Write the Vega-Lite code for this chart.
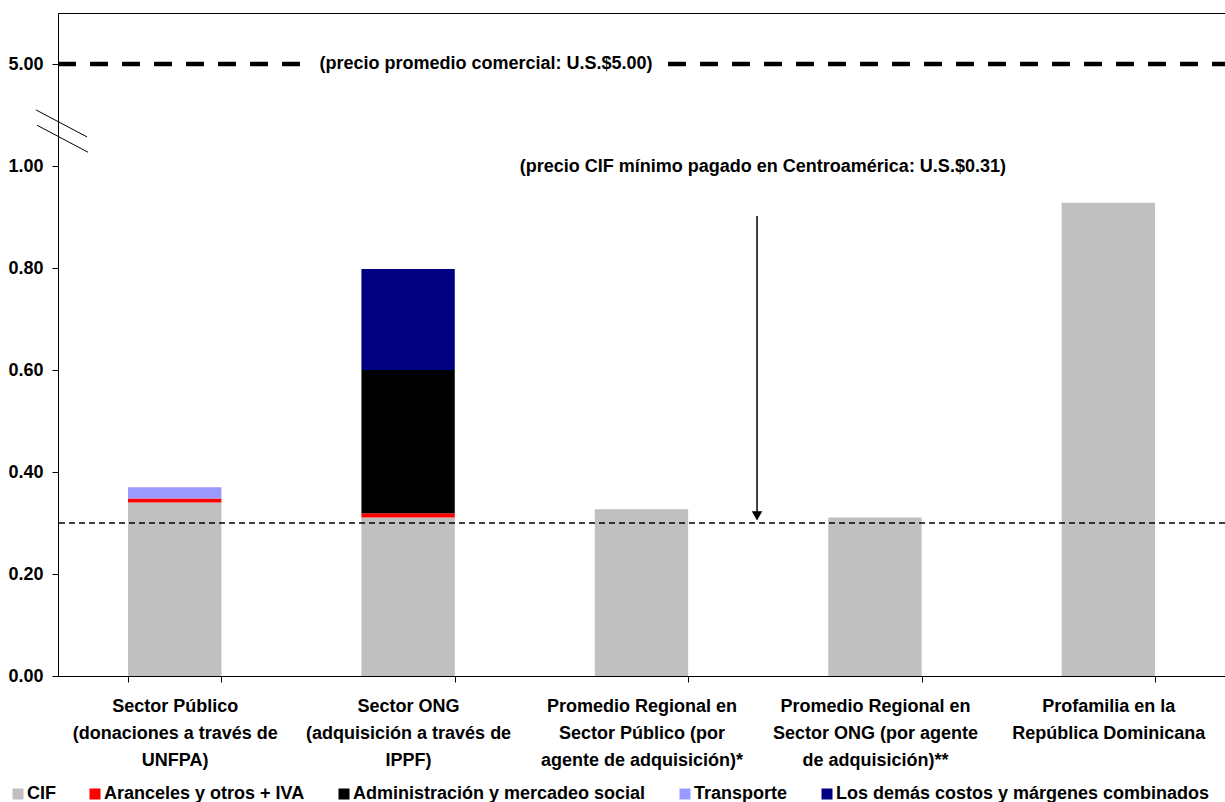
{
  "$schema": "https://vega.github.io/schema/vega-lite/v6.json",
  "autosize": "none",
  "width": 1167,
  "height": 663,
  "padding": {"left": 58, "top": 13, "right": 0, "bottom": 126},
  "background": "white",
  "config": {
    "font": "Liberation Sans",
    "view": {"stroke": "black", "strokeWidth": 1},
    "axis": {
      "labelFont": "Liberation Sans",
      "labelFontSize": 18,
      "labelFontWeight": "bold",
      "labelColor": "black",
      "domainColor": "black",
      "tickColor": "black",
      "grid": false,
      "title": null
    },
    "legend": {
      "labelFont": "Liberation Sans",
      "labelFontSize": 18,
      "labelFontWeight": "bold",
      "labelColor": "black"
    }
  },
  "data": {
    "values": [
      {"categoria": "Sector Público (donaciones a través de UNFPA)", "componente": "CIF", "orden": 1, "valor": 0.34},
      {"categoria": "Sector Público (donaciones a través de UNFPA)", "componente": "Aranceles y otros + IVA", "orden": 2, "valor": 0.008},
      {"categoria": "Sector Público (donaciones a través de UNFPA)", "componente": "Transporte", "orden": 4, "valor": 0.022},
      {"categoria": "Sector ONG (adquisición a través de IPPF)", "componente": "CIF", "orden": 1, "valor": 0.311},
      {"categoria": "Sector ONG (adquisición a través de IPPF)", "componente": "Aranceles y otros + IVA", "orden": 2, "valor": 0.008},
      {"categoria": "Sector ONG (adquisición a través de IPPF)", "componente": "Administración y mercadeo social", "orden": 3, "valor": 0.281},
      {"categoria": "Sector ONG (adquisición a través de IPPF)", "componente": "Los demás costos y márgenes combinados", "orden": 5, "valor": 0.198},
      {"categoria": "Promedio Regional en Sector Público (por agente de adquisición)*", "componente": "CIF", "orden": 1, "valor": 0.327},
      {"categoria": "Promedio Regional en Sector ONG (por agente de adquisición)**", "componente": "CIF", "orden": 1, "valor": 0.311},
      {"categoria": "Profamilia en la República Dominicana", "componente": "CIF", "orden": 1, "valor": 0.928}
    ]
  },
  "layer": [
    {
      "mark": {"type": "bar"},
      "encoding": {
        "x": {
          "field": "categoria",
          "type": "nominal",
          "sort": null,
          "scale": {"paddingInner": 0.6, "paddingOuter": 0.3},
          "axis": {
            "labelAngle": 0,
            "tickBand": "extent",
            "tickSize": 6,
            "labelPadding": 15,
            "labelLineHeight": 27,
            "labelLimit": 0,
            "labelExpr": "datum.value == 'Sector Público (donaciones a través de UNFPA)' ? ['Sector Público', '(donaciones a través de', 'UNFPA)'] : datum.value == 'Sector ONG (adquisición a través de IPPF)' ? ['Sector ONG', '(adquisición a través de', 'IPPF)'] : datum.value == 'Promedio Regional en Sector Público (por agente de adquisición)*' ? ['Promedio Regional en', 'Sector Público (por', 'agente de adquisición)*'] : datum.value == 'Promedio Regional en Sector ONG (por agente de adquisición)**' ? ['Promedio Regional en', 'Sector ONG (por agente', 'de adquisición)**'] : datum.value == 'Profamilia en la República Dominicana' ? ['Profamilia en la', 'República Dominicana'] : ''"
          }
        },
        "y": {
          "field": "valor",
          "type": "quantitative",
          "stack": "zero",
          "scale": {"domain": [0, 1.3], "nice": false},
          "axis": {
            "values": [0, 0.2, 0.4, 0.6, 0.8, 1.0, 1.2],
            "labelExpr": "datum.value > 1.1 ? '5.00' : format(datum.value, '.2f')",
            "tickSize": 6,
            "labelPadding": 9
          }
        },
        "color": {
          "field": "componente",
          "type": "nominal",
          "scale": {
            "domain": ["CIF", "Aranceles y otros + IVA", "Administración y mercadeo social", "Transporte", "Los demás costos y márgenes combinados"],
            "range": ["#C0C0C0", "#FF0000", "#000000", "#9999FF", "#000080"]
          },
          "legend": {
            "orient": "none",
            "legendX": -49,
            "legendY": 772,
            "direction": "horizontal",
            "columns": 5,
            "title": null,
            "symbolType": "square",
            "symbolSize": 121,
            "symbolStrokeWidth": 0,
            "labelOffset": 0,
            "columnPadding": 30,
            "labelLimit": 0
          }
        },
        "order": {"field": "orden", "type": "quantitative"}
      }
    },
    {
      "data": {"values": [{"precio": 0.3}]},
      "mark": {"type": "rule", "color": "black", "strokeWidth": 1.5, "strokeDash": [6, 4]},
      "encoding": {
        "y": {"field": "precio", "type": "quantitative", "scale": {"domain": [0, 1.3], "nice": false}}
      }
    },
    {
      "data": {"values": [{"desde": 0, "hasta": 0.2103, "precio": 1.2}, {"desde": 0.5227, "hasta": 1, "precio": 1.2}]},
      "mark": {"type": "rule", "color": "black", "strokeWidth": 4.5, "strokeDash": [18, 14]},
      "encoding": {
        "x": {"field": "desde", "type": "quantitative", "scale": {"domain": [0, 1], "nice": false, "zero": false}, "axis": null},
        "x2": {"field": "hasta"},
        "y": {"field": "precio", "type": "quantitative", "scale": {"domain": [0, 1.3], "nice": false}}
      }
    },
    {
      "data": {"values": [
        {"texto": "(precio promedio comercial: U.S.$5.00)", "posicion": 0.3668, "nivel": 1.2},
        {"texto": "(precio CIF mínimo pagado en Centroamérica: U.S.$0.31)", "posicion": 0.604, "nivel": 0.998}
      ]},
      "mark": {"type": "text", "font": "Liberation Sans", "fontSize": 18, "fontWeight": "bold", "color": "black", "align": "center", "baseline": "middle"},
      "encoding": {
        "x": {"field": "posicion", "type": "quantitative", "scale": {"domain": [0, 1], "nice": false, "zero": false}, "axis": null},
        "y": {"field": "nivel", "type": "quantitative", "scale": {"domain": [0, 1.3], "nice": false}},
        "text": {"field": "texto"}
      }
    },
    {
      "data": {"values": [{"posicion": 0.599, "desde": 0.902, "hasta": 0.318}]},
      "mark": {"type": "rule", "color": "black", "strokeWidth": 1.5},
      "encoding": {
        "x": {"field": "posicion", "type": "quantitative", "scale": {"domain": [0, 1], "nice": false, "zero": false}, "axis": null},
        "y": {"field": "desde", "type": "quantitative", "scale": {"domain": [0, 1.3], "nice": false}},
        "y2": {"field": "hasta"}
      }
    },
    {
      "data": {"values": [{"posicion": 0.599, "nivel": 0.314}]},
      "mark": {"type": "point", "shape": "triangle-down", "filled": true, "color": "black", "size": 110, "opacity": 1},
      "encoding": {
        "x": {"field": "posicion", "type": "quantitative", "scale": {"domain": [0, 1], "nice": false, "zero": false}, "axis": null},
        "y": {"field": "nivel", "type": "quantitative", "scale": {"domain": [0, 1.3], "nice": false}}
      }
    },
    {
      "data": {"values": [
        {"x1": -0.0189, "x2": 0.0249, "y1": 1.110, "y2": 1.057},
        {"x1": -0.018, "x2": 0.0257, "y1": 1.080, "y2": 1.027}
      ]},
      "mark": {"type": "rule", "color": "black", "strokeWidth": 1},
      "encoding": {
        "x": {"field": "x1", "type": "quantitative", "scale": {"domain": [0, 1], "nice": false, "zero": false}, "axis": null},
        "x2": {"field": "x2"},
        "y": {"field": "y1", "type": "quantitative", "scale": {"domain": [0, 1.3], "nice": false}},
        "y2": {"field": "y2"}
      }
    }
  ],
  "resolve": {"scale": {"x": "independent"}, "axis": {"x": "independent"}}
}
